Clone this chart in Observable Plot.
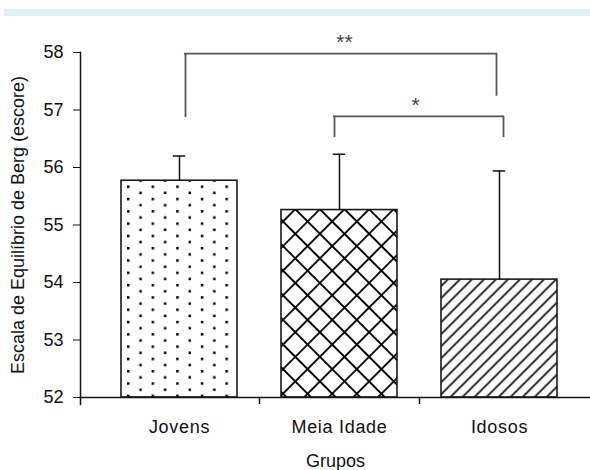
<!DOCTYPE html>
<html><head><meta charset="utf-8">
<script src="https://cdn.jsdelivr.net/npm/d3@7"></script>
<script src="https://cdn.jsdelivr.net/npm/@observablehq/plot@0.6"></script>
<style>
html,body{margin:0;padding:0;background:#fff;}
#wrap{position:relative;width:590px;height:470px;}
#band{position:absolute;left:4px;top:9px;width:586px;height:7px;background:#e0f1f9;z-index:2;}
#wrap svg{position:absolute;left:0;top:0;}
svg text{font-family:"Liberation Sans",Arial,sans-serif;}
[aria-label^="x-axis"] text{letter-spacing:0.7px;}
</style></head><body><div id="wrap"><div id="band"></div></div>
<script>
// ---- data ----
const grupos = ["Jovens", "Meia Idade", "Idosos"];
const medias = [55.77, 55.26, 54.05];
const desvios = [0.43, 0.97, 1.89];
const padroes = ["pontos", "losangos", "diagonais"];
const yTicks = [52, 53, 54, 55, 56, 57, 58];
const eixoX = "Grupos";
const eixoY = "Escala de Equilíbrio de Berg (escore)";
const comparacoes = [
  {de: "Jovens", para: "Idosos", topo: 57.98, fimDe: 56.87, fimPara: 57.24, sig: "**"},
  {de: "Meia Idade", para: "Idosos", topo: 56.89, fimDe: 56.52, fimPara: 56.52, sig: "*"}
];

// ---- layout (pixels) ----
const step = 160, bw = 115.68, cap = 12;
const ajustes = [{dl: 6, dr: -3, dt: 165}, {dl: -5, dr: 4, dt: 76}];

const dados = grupos.map((g, i) => ({grupo: g, media: medias[i], sd: desvios[i], padrao: padroes[i]}));

const corLinha = "#111";
const marks = [
  Plot.barY(dados, {x: "grupo", y1: 52, y2: "media", fill: d => `url(#${d.padrao})`, stroke: "#1a1a1a", strokeWidth: 1.6}),
  Plot.ruleX(dados, {x: "grupo", y1: "media", y2: d => d.media + d.sd, stroke: corLinha, strokeWidth: 1.5}),
  Plot.tickY(dados, {x: "grupo", y: d => d.media + d.sd, insetLeft: (bw - cap) / 2, insetRight: (bw - cap) / 2, stroke: corLinha, strokeWidth: 1.5}),
  Plot.ruleY([52], {stroke: corLinha, strokeWidth: 1.5}),
  Plot.frame({anchor: "left", insetBottom: -7, stroke: corLinha, strokeWidth: 1.5}),
  Plot.ruleX(grupos.slice(0, 2), {x: d => d, dx: step / 2, y1: 52, y2: 52, insetBottom: -7, stroke: corLinha, strokeWidth: 1.5}),
  Plot.text([eixoY], {text: d => d, frameAnchor: "left", textAnchor: "middle", lineAnchor: "middle", dx: -62, rotate: -90, fontSize: 18, fill: "#111", ariaLabel: "titulo-y"}),
  Plot.text([eixoX], {text: d => d, frameAnchor: "bottom", textAnchor: "middle", dy: 69, lineAnchor: "bottom", fontSize: 18, fill: "#111", ariaLabel: "titulo-x"})
];
comparacoes.forEach((c, i) => {
  const a = ajustes[i];
  marks.push(
    Plot.ruleX([c], {x: "de", y1: "topo", y2: "fimDe", dx: a.dl, stroke: "#555", strokeWidth: 1.8}),
    Plot.ruleX([c], {x: "para", y1: "topo", y2: "fimPara", dx: a.dr, stroke: "#555", strokeWidth: 1.8}),
    Plot.ruleY([c], {x1: "de", x2: "para", y: "topo", insetLeft: bw / 2 + a.dl - 0.9, insetRight: bw / 2 - a.dr - 0.9, stroke: "#555", strokeWidth: 1.8}),
    Plot.text([c], {x: "de", y: "topo", text: "sig", dx: a.dt, dy: -4.5, lineAnchor: "bottom", fontSize: 21, fill: "#444", ariaLabel: "sig"})
  );
});

const chart = Plot.plot({
  width: 590, height: 470,
  marginLeft: 80, marginRight: 0, marginTop: 52, marginBottom: 73,
  style: {fontFamily: '"Liberation Sans", Arial, sans-serif', fontSize: "18px", color: "#111", background: "transparent", overflow: "visible"},
  x: {type: "band", domain: grupos, range: [99, 579], paddingInner: 0.277, paddingOuter: 0.1385, tickSize: 0, tickPadding: 23, label: null},
  y: {domain: [52, 58], ticks: yTicks, tickFormat: "d", tickSize: 7, tickPadding: 10, label: null},
  color: {type: "identity"},
  marks
});

d3.select(chart).insert("defs", ":first-child").html(`
<pattern id="pontos" patternUnits="userSpaceOnUse" width="24.6" height="12.3" x="4" y="1">
  <rect x="0" y="0" width="2.5" height="2.5" fill="#000"/>
  <rect x="12.3" y="6.15" width="2.5" height="2.5" fill="#000"/>
</pattern>
<pattern id="losangos" patternUnits="userSpaceOnUse" width="17.4" height="17.4" patternTransform="rotate(45)">
  <rect width="17.4" height="17.4" fill="#fff"/>
  <path d="M8.7,0V17.4M0,8.7H17.4" stroke="#000" stroke-width="1.8"/>
</pattern>
<pattern id="diagonais" patternUnits="userSpaceOnUse" width="8.5" height="8.5" patternTransform="rotate(45)">
  <rect width="8.5" height="8.5" fill="#fff"/>
  <path d="M4.25,0V8.5" stroke="#000" stroke-width="1.7"/>
</pattern>`);
d3.select(chart).selectAll('g[aria-label="titulo-y"] text').style("letter-spacing", "1.45px");
d3.select(chart).selectAll('g[aria-label="titulo-x"] text').style("letter-spacing", "0.6px");
d3.select(chart).selectAll('g[aria-label="sig"] text').style("letter-spacing", "1.5px");
document.getElementById("wrap").appendChild(chart);
</script></body></html>
